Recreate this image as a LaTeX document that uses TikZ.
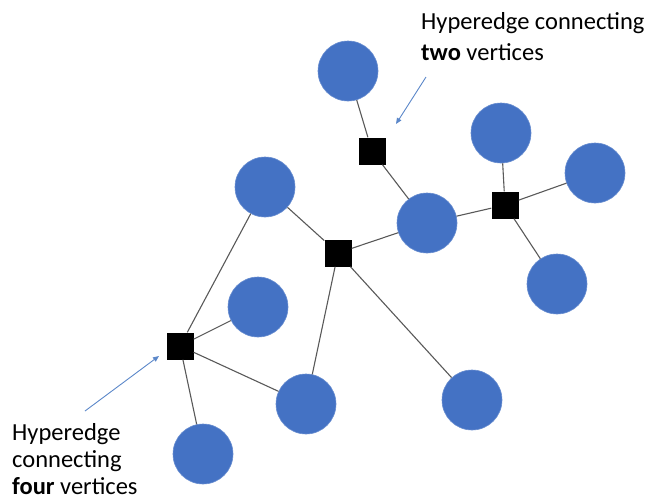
\documentclass[tikz,border=0pt]{standalone}
\usepackage{fontspec}
\setmainfont{Carlito}
\usetikzlibrary{arrows.meta}
\definecolor{vblue}{HTML}{4472C4}
\definecolor{ecol}{HTML}{595959}
\definecolor{acol}{HTML}{5B87C9}
\tikzset{
  vert/.style={circle,fill=vblue,draw=vblue!80!white,line width=0.6pt,minimum size=60pt,inner sep=0pt},
  hedge/.style={rectangle,fill=black,minimum size=27pt,inner sep=0pt},
  link/.style={draw=ecol,line width=1.1pt},
  pointer/.style={draw=acol,line width=0.9pt,-{Triangle[length=6pt,width=5pt]}},
  lbl/.style={font=\fontsize{24.5}{30}\selectfont,align=left,inner sep=0pt}
}
\begin{document}
\begin{tikzpicture}[x=1pt,y=-1pt]
\useasboundingbox (0,0) rectangle (649,499);
% vertices
\node[vert] (c1) at (348,71) {};
\node[vert] (c2) at (501,133) {};
\node[vert] (c3) at (595,173) {};
\node[vert] (c4) at (265,187) {};
\node[vert] (c5) at (427,223) {};
\node[vert] (c6) at (557,284) {};
\node[vert] (c7) at (258,307) {};
\node[vert] (c8) at (306,404) {};
\node[vert] (c9) at (472,400) {};
\node[vert] (c10) at (203,454) {};
% hyperedges
\node[hedge] (s1) at (372,151) {};
\node[hedge] (s2) at (505,205) {};
\node[hedge] (s3) at (338,253) {};
\node[hedge] (s4) at (180,346) {};
% connections
\draw[link] (c1) -- (s1);
\draw[link] (s1) -- (c5);
\draw[link] (s2) -- (c2);
\draw[link] (s2) -- (c3);
\draw[link] (s2) -- (c6);
\draw[link] (s2) -- (c5);
\draw[link] (s3) -- (c4);
\draw[link] (s3) -- (c5);
\draw[link] (s3) -- (c8);
\draw[link] (s3) -- (c9);
\draw[link] (s4) -- (c4);
\draw[link] (s4) -- (c7);
\draw[link] (s4) -- (c8);
\draw[link] (s4) -- (c10);
% labels
\node[lbl,anchor=base west] (t1) at (421,29) {Hyperedge connecting};
\node[lbl,anchor=base west] (t2) at (421,60) {\textbf{two} vertices};
\node[lbl,anchor=base west] (b1) at (12,440) {Hyperedge};
\node[lbl,anchor=base west] (b2) at (12,467) {connecting};
\node[lbl,anchor=base west,text depth=0pt] (b3) at (12,494) {\textbf{four} vertices};
% pointers
\coordinate (p1a) at (426,77);
\coordinate (p1b) at (396,124);
\coordinate (p2a) at (85,411);
\coordinate (p2b) at (159,356);
\draw[pointer] (p1a) -- (p1b);
\draw[pointer] (p2a) -- (p2b);
\end{tikzpicture}
\end{document}
